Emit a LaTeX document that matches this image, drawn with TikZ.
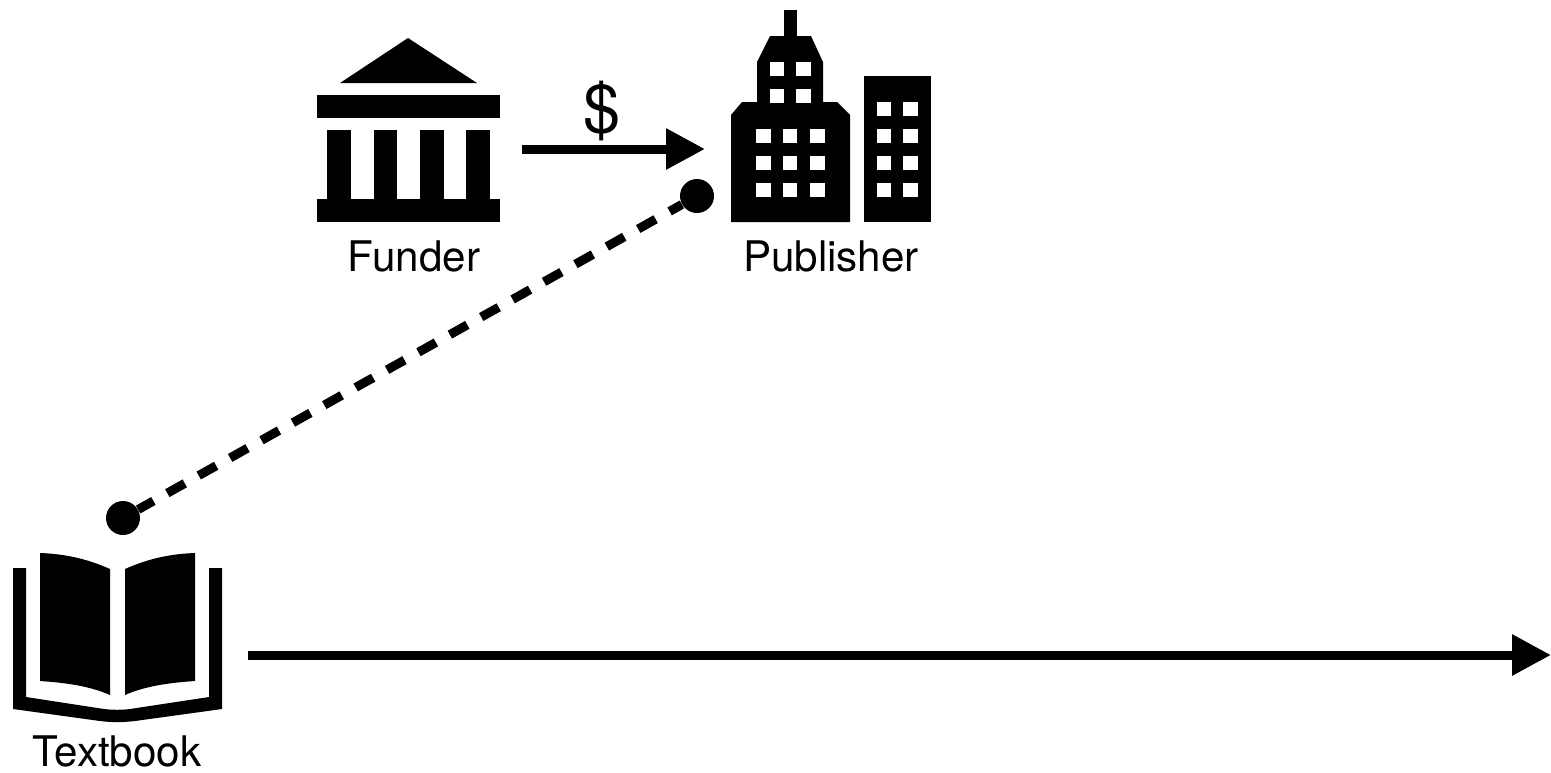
\documentclass[tikz,border=0pt]{standalone}
\usepackage{fontspec}
\setmainfont{TeX Gyre Heros}
\usetikzlibrary{positioning, arrows.meta}

\begin{document}
\begin{tikzpicture}[
    x=0.02cm, y=-0.02cm,
    solid/.style={fill=black, draw=none},
    window/.style={fill=white, draw=none, minimum size=0.285cm, inner sep=0pt},
    caption/.style={anchor=base, inner sep=0pt, font=\fontsize{24}{28}\selectfont},
    dot/.style={circle, fill=black, minimum size=0.68cm, inner sep=0pt},
    flow/.style={line width=0.18cm, -{Triangle[length=0.78cm, width=0.78cm]}},
    link/.style={line width=0.18cm, dash pattern=on 0.4cm off 0.32cm, dash phase=0.05cm}
  ]

  \useasboundingbox (0,0) rectangle (1551,772);

  \fill[solid] (408,38) -- (477,83) -- (340,83) -- cycle;
  \fill[solid] (316.5,95) rectangle (500,118);
  \foreach \x in {327,373.5,420,466}
    \fill[solid] (\x,130) rectangle +(23.5,69);
  \fill[solid] (316.5,199) rectangle (500,222);
  \node[caption] (funder) at (414,271) {Funder};

  \fill[solid] (783.5,10) rectangle (797,36);
  \fill[solid] (770,36) -- (811,36) -- (823,62) -- (823,102) -- (837,102)
    -- (850,115) -- (850,222) -- (731,222) -- (731,115) -- (742,102)
    -- (757,102) -- (757,62) -- cycle;
  \fill[solid] (864,76) rectangle (930.5,222);
  \foreach \x in {777,803.5}
    \foreach \y in {69,96}
      \node[window] at (\x,\y) {};
  \foreach \x in {763.5,790,817.5}
    \foreach \y in {136,163,190}
      \node[window] at (\x,\y) {};
  \foreach \x in {884,910.5}
    \foreach \y in {109,136,163,190}
      \node[window] at (\x,\y) {};
  \node[caption] (publisher) at (831,271) {Publisher};

  \fill[solid] (40,553) .. controls (70,554) and (92,561) .. (110,569)
    -- (110,695) .. controls (92,687) and (70,683) .. (40,681) -- cycle;
  \fill[solid] (195,553) .. controls (165,554) and (143,561) .. (125,569)
    -- (125,695) .. controls (143,687) and (165,683) .. (195,681) -- cycle;
  \fill[solid] (13,568) -- (26,568) -- (26,697) -- (104,709) .. controls (112,710) and (122,710) .. (130,709)
    -- (209,697) -- (209,568) -- (222,568) -- (222,709)
    -- (135,721) .. controls (122,722.5) and (112,722.5) .. (100,721) -- (13,709) -- cycle;
  \node[caption] (textbook) at (117,766) {Textbook};

  \coordinate (paystart) at (522,149);
  \coordinate (payend) at (705,149);
  \coordinate (salestart) at (248,655);
  \coordinate (saleend) at (1551,655);
  \node[dot] (pubdot) at (697,196) {};
  \node[dot] (bookdot) at (123,518) {};

  \draw[flow] (paystart) -- (payend) node [pos=0.44, above=-0.05cm, font=\fontsize{38}{44}\selectfont] (dollar) {\$};
  \draw[link] (bookdot) -- (pubdot);
  \draw[flow] (salestart) -- (saleend);

\end{tikzpicture}
\end{document}
